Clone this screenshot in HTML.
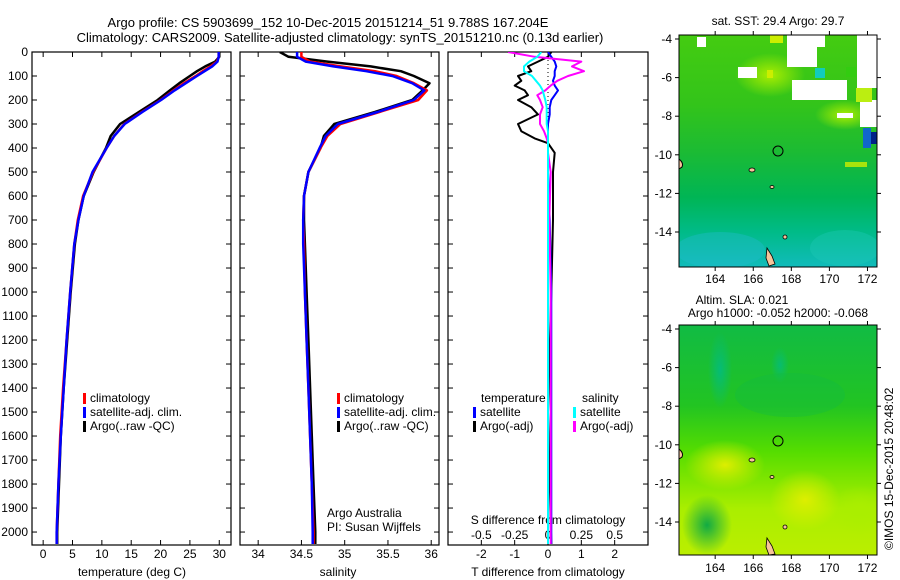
<!DOCTYPE html>
<html><head><meta charset="utf-8">
<style>
html,body{margin:0;padding:0;background:#fff;}
svg{display:block;font-family:"Liberation Sans",Arial,sans-serif;}
text{fill:#000;}
</style></head>
<body>
<svg id="chart" width="900" height="580" viewBox="0 0 900 580" xmlns="http://www.w3.org/2000/svg">
<defs>
  <linearGradient id="sstBase" x1="0" y1="0" x2="0" y2="1">
    <stop offset="0" stop-color="#44cc11"/>
    <stop offset="0.3" stop-color="#33c41a"/>
    <stop offset="0.5" stop-color="#1cbb33"/>
    <stop offset="0.7" stop-color="#00b555"/>
    <stop offset="0.85" stop-color="#00bb88"/>
    <stop offset="1" stop-color="#11bbbb"/>
  </linearGradient>
  <linearGradient id="slaBase" x1="0" y1="0" x2="0" y2="1">
    <stop offset="0" stop-color="#11bb44"/>
    <stop offset="0.35" stop-color="#22c422"/>
    <stop offset="0.55" stop-color="#55dd00"/>
    <stop offset="0.8" stop-color="#aaee00"/>
    <stop offset="1" stop-color="#bbee00"/>
  </linearGradient>
  <radialGradient id="tealBlob"><stop offset="0" stop-color="#00bb88"/><stop offset="1" stop-color="#00bb88" stop-opacity="0"/></radialGradient>
  <radialGradient id="greenBlob"><stop offset="0" stop-color="#11aa44"/><stop offset="1" stop-color="#11aa44" stop-opacity="0"/></radialGradient>
  <radialGradient id="yellowBlob"><stop offset="0" stop-color="#ddee00"/><stop offset="1" stop-color="#ddee00" stop-opacity="0"/></radialGradient>
  <radialGradient id="limeBlob"><stop offset="0" stop-color="#aaee00"/><stop offset="1" stop-color="#aaee00" stop-opacity="0"/></radialGradient>
  <clipPath id="clipTop"><rect x="679" y="35" width="198" height="232"/></clipPath>
  <clipPath id="clipBot"><rect x="679" y="325" width="198" height="230"/></clipPath>
  <clipPath id="clipP1"><rect x="32" y="52" width="199" height="493"/></clipPath>
  <clipPath id="clipP2"><rect x="240" y="52" width="199" height="493"/></clipPath>
  <clipPath id="clipP3"><rect x="448" y="52" width="200" height="493"/></clipPath>
</defs>

<text x="328" y="27" font-size="13" text-anchor="middle">Argo profile: CS 5903699_152 10-Dec-2015 20151214_51 9.788S 167.204E</text>
<text x="340" y="42" font-size="13" text-anchor="middle">Climatology: CARS2009. Satellite-adjusted climatology: synTS_20151210.nc (0.13d earlier)</text>

<!-- maps -->
<g>
  <g clip-path="url(#clipTop)">
    <rect x="679" y="35" width="198" height="232" fill="url(#sstBase)"/>
    <ellipse cx="770" cy="75" rx="35" ry="22" fill="url(#limeBlob)"/>
    <ellipse cx="845" cy="115" rx="30" ry="15" fill="url(#limeBlob)"/>
    <ellipse cx="720" cy="250" rx="45" ry="18" fill="#22bbcc" opacity="0.4"/>
    <ellipse cx="845" cy="248" rx="35" ry="18" fill="#22ccbb" opacity="0.35"/>
    <rect x="697" y="37" width="9" height="10" fill="#fff"/>
    <rect x="738" y="67" width="19" height="11" fill="#fff"/>
    <rect x="787" y="35" width="30" height="32" fill="#fff"/>
    <rect x="817" y="35" width="8" height="12" fill="#fff"/>
    <rect x="857" y="35" width="20" height="53" fill="#fff"/>
    <rect x="792" y="80" width="55" height="20" fill="#fff"/>
    <rect x="837" y="113" width="16" height="5" fill="#fff"/>
    <rect x="860" y="100" width="17" height="27" fill="#fff"/>
    <rect x="815" y="68" width="10" height="10" fill="#11ccbb"/>
    <rect x="846" y="67" width="10" height="10" fill="#33cc11"/>
    <rect x="770" y="35" width="13" height="8" fill="#ccee00"/>
    <rect x="767" y="70" width="6" height="8" fill="#ccee00"/>
    <rect x="856" y="88" width="16" height="14" fill="#bbee11"/>
    <rect x="863" y="128" width="8" height="20" fill="#1166cc"/>
    <rect x="871" y="132" width="6" height="12" fill="#002288"/>
    <rect x="845" y="162" width="22" height="5" fill="#ccee00" opacity="0.8"/>
  </g>
  <circle cx="778" cy="151" r="5" fill="none" stroke="#000" stroke-width="1"/>
  <path d="M679 159 q5 4 3 8 l-3 2z" fill="#f7c49a" stroke="#000"/>
  <ellipse cx="752" cy="170" rx="3" ry="2" fill="#f7c49a" stroke="#000" stroke-width="0.8"/>
  <ellipse cx="772" cy="187" rx="2" ry="1.5" fill="#f7c49a" stroke="#000" stroke-width="0.8"/>
  <path d="M767 248 l5 8 l3 8 l-6 2 l-3 -8z" fill="#f7c49a" stroke="#000" stroke-width="0.8"/>
  <ellipse cx="785" cy="237" rx="2" ry="2" fill="#f7c49a" stroke="#000" stroke-width="0.8"/>
  <rect x="679" y="35" width="198" height="232" fill="none" stroke="#000" stroke-width="1"/>
</g>

<g>
  <g clip-path="url(#clipBot)">
    <rect x="679" y="325" width="198" height="230" fill="url(#slaBase)"/>
    <ellipse cx="720" cy="370" rx="12" ry="38" fill="url(#tealBlob)" opacity="0.8"/>
    <ellipse cx="780" cy="365" rx="9" ry="18" fill="url(#tealBlob)" opacity="0.7"/>
    <ellipse cx="790" cy="395" rx="55" ry="22" fill="#11bb44" opacity="0.35"/>
    <ellipse cx="725" cy="465" rx="40" ry="25" fill="url(#yellowBlob)"/>
    <ellipse cx="805" cy="500" rx="35" ry="30" fill="url(#yellowBlob)"/>
    <ellipse cx="860" cy="510" rx="30" ry="25" fill="url(#limeBlob)"/>
    <ellipse cx="707" cy="525" rx="25" ry="30" fill="url(#greenBlob)"/>
  </g>
  <circle cx="778" cy="441" r="5" fill="none" stroke="#000" stroke-width="1"/>
  <path d="M679 449 q5 4 3 8 l-3 2z" fill="#f7c49a" stroke="#000"/>
  <ellipse cx="752" cy="460" rx="3" ry="2" fill="#f7c49a" stroke="#000" stroke-width="0.8"/>
  <ellipse cx="772" cy="477" rx="2" ry="1.5" fill="#f7c49a" stroke="#000" stroke-width="0.8"/>
  <path d="M767 538 l5 8 l3 8 l-6 1 l-3 -8z" fill="#f7c49a" stroke="#000" stroke-width="0.8"/>
  <ellipse cx="785" cy="527" rx="2" ry="2" fill="#f7c49a" stroke="#000" stroke-width="0.8"/>
  <rect x="679" y="325" width="198" height="230" fill="none" stroke="#000" stroke-width="1"/>
</g>

<text x="778" y="25" font-size="12" text-anchor="middle">sat. SST: 29.4  Argo: 29.7</text>
<text x="742" y="304" font-size="12" text-anchor="middle">Altim. SLA: 0.021</text>
<text x="778" y="317" font-size="12" text-anchor="middle">Argo h1000: -0.052 h2000: -0.068</text>
<text transform="translate(893,550) rotate(-90)" font-size="12">©IMOS 15-Dec-2015 20:48:02</text>

<g id="plots"></g>
</svg>

<script>
// ---- data ----
var depths = [0, 20, 40, 60, 80, 100, 130, 160, 200, 250, 300, 350, 400, 500, 600, 700, 800, 1000, 1200, 1400, 1600, 1800, 2000, 2050];
var tempClim = [29.9, 29.9, 29.6, 28.5, 27.2, 26.0, 24.0, 22.2, 20.0, 16.8, 13.8, 12.1, 10.8, 8.5, 6.8, 5.9, 5.3, 4.6, 4.0, 3.4, 2.9, 2.6, 2.3, 2.3];
var tempSat  = [29.9, 29.9, 29.7, 28.8, 27.5, 26.2, 24.3, 22.4, 20.1, 16.9, 13.9, 12.1, 10.8, 8.4, 6.9, 6.0, 5.3, 4.6, 4.0, 3.5, 3.0, 2.6, 2.3, 2.3];
var tempArgo = [30.0, 30.0, 29.3, 27.6, 26.2, 25.0, 23.2, 21.6, 19.5, 16.3, 13.1, 11.5, 10.7, 8.6, 6.9, 6.0, 5.4, 4.7, 4.1, 3.5, 3.0, 2.7, 2.4, 2.4];
var salClim = [34.50, 34.50, 34.60, 34.95, 35.35, 35.60, 35.80, 35.95, 35.85, 35.40, 34.95, 34.80, 34.72, 34.58, 34.53, 34.52, 34.53, 34.54, 34.56, 34.58, 34.60, 34.62, 34.64, 34.64];
var salSat  = [34.45, 34.45, 34.55, 34.87, 35.25, 35.55, 35.78, 35.92, 35.80, 35.38, 34.92, 34.78, 34.71, 34.58, 34.53, 34.52, 34.52, 34.54, 34.56, 34.58, 34.60, 34.62, 34.63, 34.63];
var salArgo = [34.25, 34.35, 34.80, 35.30, 35.65, 35.80, 35.98, 35.90, 35.78, 35.35, 34.88, 34.76, 34.72, 34.58, 34.53, 34.53, 34.54, 34.56, 34.58, 34.60, 34.62, 34.64, 34.66, 34.66];
var diffDepths = [0, 20, 40, 60, 80, 100, 120, 140, 160, 180, 200, 230, 260, 300, 330, 360, 380, 420, 500, 700, 1000, 1500, 2050];
var tDiffSat  = [0.0, 0.1, 0.2, 0.25, 0.2, 0.2, 0.15, 0.2, 0.3, 0.2, 0.1, 0.05, 0.05, 0.0, 0.0, 0.0, 0.0, 0.0, 0.0, 0.05, 0.1, 0.1, 0.1];
var tDiffArgo = [0.1, 0.0, -0.3, -0.6, -0.5, -0.9, -0.8, -1.0, -0.7, -0.6, -0.9, -0.5, -0.3, -0.9, -0.8, -0.4, 0.0, 0.2, 0.15, 0.15, 0.1, 0.0, 0.1];
var sDiffSat  = [-0.05, -0.08, -0.14, -0.18, -0.18, -0.12, -0.09, -0.06, -0.04, -0.03, -0.02, -0.01, -0.01, -0.01, 0.0, 0.0, 0.0, 0.0, 0.0, 0.0, 0.0, 0.0, 0.0];
var sDiffArgo = [-0.3, -0.1, 0.25, 0.18, 0.27, 0.15, 0.07, 0.02, -0.02, -0.08, -0.06, -0.04, -0.06, -0.06, -0.03, -0.01, 0.0, 0.0, 0.02, 0.01, 0.02, 0.02, 0.02];
var depthTicks = [0,100,200,300,400,500,600,700,800,900,1000,1100,1200,1300,1400,1500,1600,1700,1800,1900,2000];
var tempTicks = [0,5,10,15,20,25,30];
var salTicks = [34,34.5,35,35.5,36];
var tDiffTicks = [-2,-1,0,1,2];
var sDiffTicks = [-0.5,-0.25,0,0.25,0.5];
var sDiffTickLabels = ["-0.5","-0.25","0","0.25","0.5"];
var lonTicks = [164,166,168,170,172];
var latTicks = [-4,-6,-8,-10,-12,-14];

// ---- scales ----
var NS = "http://www.w3.org/2000/svg";
var TOP = 52, BOT = 545;
function yDepth(d){ return TOP + (d/2054)*(BOT-TOP); }
function linear(d0,d1,r0,r1){ return function(v){ return r0 + (v-d0)/(d1-d0)*(r1-r0); }; }
var xTemp = linear(-1.9, 32.0, 32, 231);
var xSal  = linear(33.79, 36.09, 240, 439);
var xTD   = linear(-3.0, 3.0, 448, 648);
var xSD   = function(s){ return xTD(s*4); };
var xLon  = linear(162.1, 172.5, 679, 877);
var yLatTop = linear(-4, -14, 39, 232);
var yLatBot = linear(-4, -14, 329, 522);

var root = document.getElementById('plots');
function mk(tag, attrs, parent){
  var e = document.createElementNS(NS, tag);
  for (var k in attrs) e.setAttribute(k, attrs[k]);
  (parent||root).appendChild(e);
  return e;
}
function txt(s, x, y, anchor, size, parent){
  var t = mk('text', {x:x, y:y, 'text-anchor':anchor||'start', 'font-size':size||12}, parent);
  t.textContent = s;
  return t;
}

function drawFrame(x0, x1, name, showDepthLabels){
  var g = mk('g', {});
  
  
  mk('rect', {x:x0, y:TOP, width:x1-x0, height:BOT-TOP, fill:'none', stroke:'#000', 'stroke-width':1.2}, g);
  depthTicks.forEach(function(d){
    var y = yDepth(d);
    mk('line', {x1:x0, x2:x0+5, y1:y, y2:y, stroke:'#000'}, g);
    mk('line', {x1:x1-5, x2:x1, y1:y, y2:y, stroke:'#000'}, g);
    if (showDepthLabels){
      var t = txt(String(d), 28, y+4, 'end', 12, g);
      
      
    }
  });
  return g;
}
function xTicks(g, ticks, labels, sc, ly){
  ticks.forEach(function(v, i){
    var x = sc(v);
    mk('line', {x1:x, x2:x, y1:BOT-5, y2:BOT, stroke:'#000'}, g);
    mk('line', {x1:x, x2:x, y1:TOP, y2:TOP+5, stroke:'#000'}, g);
    var t = txt(labels ? labels[i] : String(v), x, ly, 'middle', 12, g);
    
    
  });
}
function line(vals, dep, sc, color, width, name, clip){
  var d = vals.map(function(v,i){ return (i?'L':'M') + sc(v).toFixed(1) + ' ' + yDepth(dep[i]).toFixed(1); }).join(' ');
  var p = mk('path', {d:d, fill:'none', stroke:color, 'stroke-width':width, 'clip-path':'url(#'+clip+')', 'stroke-linejoin':'round'});
  
  
  return p;
}
function legendEntry(x, y, color, label, g){
  mk('rect', {x:x, y:y-9, width:3, height:11, fill:color}, g);
  var t = txt(label, x+7, y, 'start', 12, g);
  
  
}

// Panel 1 temperature
var g1 = drawFrame(32, 231, 'temperature-panel', true);
xTicks(g1, tempTicks, null, xTemp, 558);
var tt = txt('temperature (deg C)', 132, 576, 'middle', 12, g1);


line(tempArgo, depths, xTemp, '#000', 2.5, 'temp-argo-line', 'clipP1');
line(tempClim, depths, xTemp, '#f00', 2.5, 'temp-climatology-line', 'clipP1');
line(tempSat, depths, xTemp, '#00f', 2.5, 'temp-satellite-line', 'clipP1');
var lg1 = mk('g', {});


legendEntry(83, 402, '#f00', 'climatology', lg1);
legendEntry(83, 416, '#00f', 'satellite-adj. clim.', lg1);
legendEntry(83, 430, '#000', 'Argo(..raw -QC)', lg1);

// Panel 2 salinity
var g2 = drawFrame(240, 439, 'salinity-panel', false);
xTicks(g2, salTicks, null, xSal, 558);
var st = txt('salinity', 338, 576, 'middle', 12, g2);


line(salArgo, depths, xSal, '#000', 2.5, 'sal-argo-line', 'clipP2');
line(salClim, depths, xSal, '#f00', 2.5, 'sal-climatology-line', 'clipP2');
line(salSat, depths, xSal, '#00f', 2.5, 'sal-satellite-line', 'clipP2');
var lg2 = mk('g', {});


legendEntry(337, 402, '#f00', 'climatology', lg2);
legendEntry(337, 416, '#00f', 'satellite-adj. clim.', lg2);
legendEntry(337, 430, '#000', 'Argo(..raw -QC)', lg2);
var c1 = txt('Argo Australia', 327, 517, 'start', 12);


var c2 = txt('PI: Susan Wijffels', 327, 531, 'start', 12);



// Panel 3 differences
var g3 = drawFrame(448, 648, 'difference-panel', false);
xTicks(g3, tDiffTicks, null, xTD, 558);
sDiffTicks.forEach(function(v, i){
  var t = txt(sDiffTickLabels[i], xSD(v), 539, 'middle', 12, g3);
  
  
});
var s3 = txt('S difference from climatology', 548, 524, 'middle', 12, g3);


var t3 = txt('T difference from climatology', 548, 576, 'middle', 12, g3);


var zl = mk('line', {x1:xTD(0), x2:xTD(0), y1:TOP, y2:BOT, stroke:'#000', 'stroke-dasharray':'1,3'});


line(tDiffArgo, diffDepths, xTD, '#000', 2, 't-diff-argo-line', 'clipP3');
line(tDiffSat, diffDepths, xTD, '#00f', 2, 't-diff-satellite-line', 'clipP3');
line(sDiffArgo, diffDepths, xSD, '#f0f', 2, 's-diff-argo-line', 'clipP3');
line(sDiffSat, diffDepths, xSD, '#0ff', 2, 's-diff-satellite-line', 'clipP3');
var lg3 = mk('g', {});


var h1 = txt('temperature', 481, 402, 'start', 12, lg3);


var h2 = txt('salinity', 582, 402, 'start', 12, lg3);


legendEntry(473, 416, '#00f', 'satellite', lg3);
legendEntry(473, 430, '#000', 'Argo(-adj)', lg3);
legendEntry(573, 416, '#0ff', 'satellite', lg3);
legendEntry(573, 430, '#f0f', 'Argo(-adj)', lg3);

// Map axes
function mapAxes(y0, y1, ySc, name, lonLabelY){
  var g = mk('g', {});
  
  
  lonTicks.forEach(function(v){
    var x = xLon(v);
    mk('line', {x1:x, x2:x, y1:y1, y2:y1+4, stroke:'#000'}, g);
    mk('line', {x1:x, x2:x, y1:y0-4, y2:y0, stroke:'#000'}, g);
    var t = txt(String(v), x, lonLabelY, 'middle', 12, g);
    
    
  });
  latTicks.forEach(function(v){
    var y = ySc(v);
    mk('line', {x1:675, x2:679, y1:y, y2:y, stroke:'#000'}, g);
    mk('line', {x1:877, x2:881, y1:y, y2:y, stroke:'#000'}, g);
    var t = txt(String(v), 672, y+4, 'end', 12, g);
    
    
  });
}
mapAxes(35, 267, yLatTop, 'sst-map-axes', 283);
mapAxes(325, 555, yLatBot, 'sla-map-axes', 572);
</script>
</body></html>
